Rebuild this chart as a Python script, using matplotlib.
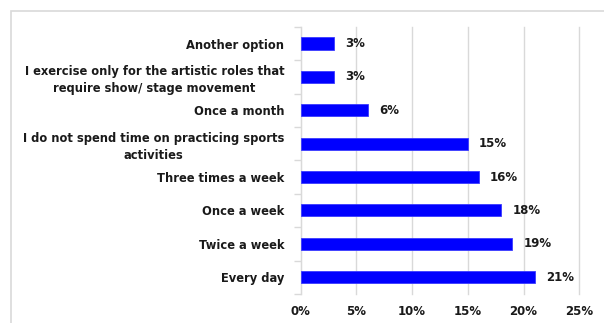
import matplotlib.pyplot as plt
from matplotlib.patches import Rectangle

categories = [
    "Every day",
    "Twice a week",
    "Once a week",
    "Three times a week",
    "I do not spend time on practicing sports\nactivities",
    "Once a month",
    "I exercise only for the artistic roles that\nrequire show/ stage movement",
    "Another option",
]
values = [21, 19, 18, 16, 15, 6, 3, 3]
xticks = [0, 5, 10, 15, 20, 25]

plt.rcParams['font.family'] = ['DejaVu Sans']

fig = plt.figure(figsize=(6.04, 3.23), dpi=100)
ax = fig.add_axes([0.498, 0.09, 0.461, 0.827])

# outer frame around the chart
fig.patches.append(Rectangle((11 / 604, -0.05), 1.1, 1 - 11 / 323 + 0.05,
                             transform=fig.transFigure, fill=False,
                             edgecolor="#d9d9d9", linewidth=1.2))

pos = list(range(len(categories)))
ax.barh(pos, values, height=0.36, color="#0000ff", edgecolor="#3a3aff", linewidth=0.6, zorder=3)

for p, v in zip(pos, values):
    ax.text(v + 1.0, p, f"{v}%", va="center", ha="left",
            fontsize=8.5, fontweight="bold", color="#1a1a1a")

ax.set_xlim(0, 25)
ax.set_ylim(-0.5, len(categories) - 0.5)
ax.set_xticks(xticks)
ax.set_xticklabels([f"{t}%" for t in xticks], fontsize=8.5, fontweight="bold", color="#1a1a1a")
ax.set_yticks(pos)
ax.set_yticklabels(categories, fontsize=8.3, fontweight="bold", color="#1a1a1a",
                   multialignment="center", linespacing=1.4)
ax.set_yticks([p - 0.5 for p in pos] + [len(pos) - 0.5], minor=True)

ax.tick_params(axis="x", length=0, pad=8)
ax.tick_params(axis="y", which="major", length=0, pad=12)
ax.tick_params(axis="y", which="minor", length=5, color="#d9d9d9", width=1)

ax.grid(axis="x", color="#d9d9d9", linewidth=1, zorder=0)
for line in ax.get_xgridlines():
    line.set_clip_on(False)
for s in ["top", "right", "bottom"]:
    ax.spines[s].set_visible(False)
ax.spines["left"].set_color("#d9d9d9")

fig.savefig("out.png", dpi=100)
